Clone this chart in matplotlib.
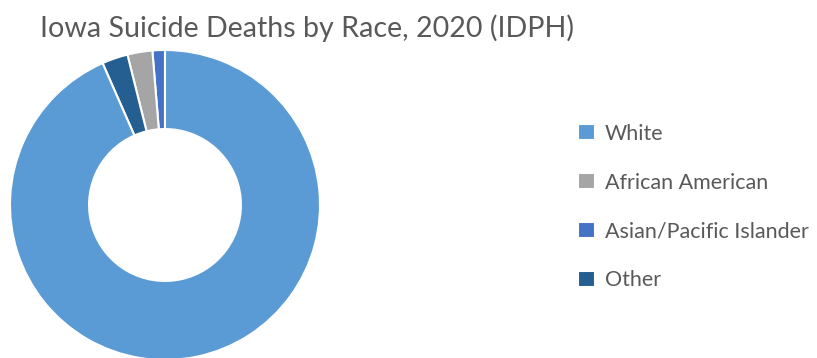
import matplotlib.pyplot as plt

# values (share of deaths, %)
labels = ['White', 'African American', 'Asian/Pacific Islander', 'Other']
shares = [93.4, 2.6, 1.3, 2.7]
colors = ['#5B9BD5', '#A5A5A5', '#4472C4', '#255E91']

# drawing order counter-clockwise from 12 o'clock
draw_order = [2, 1, 3, 0]

plt.rcParams['font.family'] = ['Lato', 'DejaVu Sans']

fig = plt.figure(figsize=(8.17, 3.58), dpi=100)
fig.patch.set_facecolor('white')

W, H = 817, 358
cx, cy, r = 165, 205, 155
ax = fig.add_axes([(cx - r) / W, (H - cy - r) / H, 2 * r / W, 2 * r / H])
wedges, _ = ax.pie([shares[i] for i in draw_order],
                   colors=[colors[i] for i in draw_order],
                   startangle=90, counterclock=True, radius=1,
                   wedgeprops=dict(width=0.51, edgecolor='white', linewidth=1.5))
ax.set_xlim(-1, 1)
ax.set_ylim(-1, 1)
ax.set_aspect('equal')
ax.axis('off')

handles = [wedges[draw_order.index(i)] for i in range(len(labels))]
leg = fig.legend(handles, labels, loc='center left',
                 bbox_to_anchor=(578 / W, (H - 207) / H),
                 frameon=False, fontsize=15.5, labelspacing=1.34,
                 handlelength=0.8, handleheight=0.8, handletextpad=0.45,
                 borderpad=0, borderaxespad=0)
for t in leg.get_texts():
    t.set_color('#595959')

fig.text(40 / W, 1 - 37 / H, 'Iowa Suicide Deaths by Race, 2020 (IDPH)',
         fontsize=20.6, color='#595959', ha='left', va='baseline')

fig.savefig('out.png', dpi=100)
